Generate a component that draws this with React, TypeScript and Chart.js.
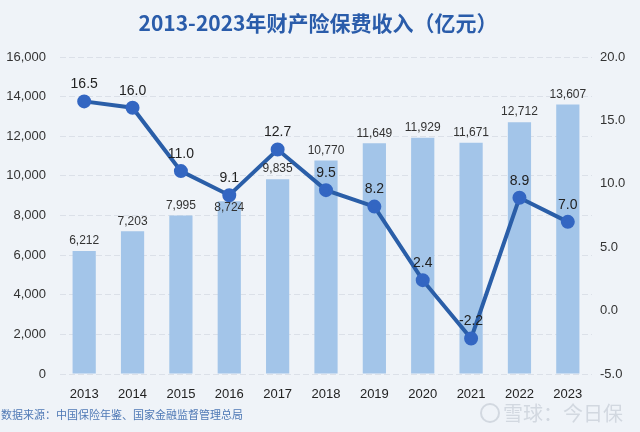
import React, { useEffect, useRef } from 'react';
import { Chart, registerables } from 'chart.js';

Chart.register(...registerables);

const years = ['2013', '2014', '2015', '2016', '2017', '2018', '2019', '2020', '2021', '2022', '2023'];
const premiums = [6212, 7203, 7995, 8724, 9835, 10770, 11649, 11929, 11671, 12712, 13607];
const growth = [16.5, 16.0, 11.0, 9.1, 12.7, 9.5, 8.2, 2.4, -2.2, 8.9, 7.0];

const titleText = '2013-2023年财产险保费收入（亿元）';
const sourceText = '数据来源：中国保险年鉴、国家金融监督管理总局';
const watermarkText = '雪球：今日保';

const FONT = '"Liberation Sans", Arial, "Noto Sans CJK SC", sans-serif';
const CJK = '"Noto Sans CJK SC", "Liberation Sans", sans-serif';

const decorPlugin = {
  id: 'decor',
  beforeDraw(chart: any) {
    const { ctx, width, height } = chart;
    ctx.save();
    ctx.fillStyle = '#eff3f8';
    ctx.fillRect(0, 0, width, height);
    ctx.restore();
  },
  afterDraw(chart: any) {
    const { ctx } = chart;
    ctx.save();
    ctx.fillStyle = '#2a5caa';
    ctx.font = `bold 21px ${CJK}`;
    ctx.textAlign = 'center';
    ctx.textBaseline = 'middle';
    ctx.fillText(titleText, 318, 23);

    ctx.fillStyle = '#4f79b5';
    ctx.font = `11px ${CJK}`;
    ctx.textAlign = 'left';
    ctx.fillText(sourceText, 1, 415);

    // watermark
    ctx.fillStyle = '#d2d8e0';
    ctx.strokeStyle = '#d2d8e0';
    ctx.lineWidth = 2;
    ctx.beginPath();
    ctx.arc(490, 413, 9, 0, Math.PI * 2);
    ctx.stroke();
    ctx.font = `20px ${CJK}`;
    ctx.fillText(watermarkText, 503, 413);
    ctx.restore();
  },
};

const labelPlugin = {
  id: 'valueLabels',
  afterDatasetsDraw(chart: any) {
    const { ctx } = chart;
    ctx.save();
    ctx.textAlign = 'center';
    ctx.textBaseline = 'middle';
    const barMeta = chart.getDatasetMeta(1);
    ctx.fillStyle = '#333333';
    ctx.font = `12px ${FONT}`;
    barMeta.data.forEach((el: any, i: number) => {
      const v = premiums[i];
      const txt = v.toLocaleString('en-US');
      const y = i === 3 ? el.y + 7 : el.y - 10;
      ctx.fillText(txt, el.x, y);
    });
    const lineMeta = chart.getDatasetMeta(0);
    ctx.font = `14px ${FONT}`;
    ctx.fillStyle = '#222222';
    lineMeta.data.forEach((el: any, i: number) => {
      ctx.fillText(growth[i].toFixed(1), el.x, el.y - 17);
    });
    ctx.restore();
  },
};

export default function App() {
  const ref = useRef<HTMLCanvasElement>(null);
  useEffect(() => {
    document.body.style.margin = '0';
    const canvas = ref.current!;
    const ctx = canvas.getContext('2d')!;
    const chart = new Chart(ctx, {
      type: 'bar',
      data: {
        labels: years,
        datasets: [
          {
            type: 'line',
            label: '增速',
            data: growth,
            yAxisID: 'y1',
            borderColor: '#2a5ea8',
            borderWidth: 4,
            pointRadius: 5,
            pointBackgroundColor: '#3366c2',
            pointBorderColor: '#3366c2',
            tension: 0,
            order: 0,
          } as any,
          {
            type: 'bar',
            label: '保费收入',
            data: premiums,
            yAxisID: 'y',
            backgroundColor: '#a3c5e9',
            barPercentage: 0.5,
            categoryPercentage: 0.96,
            order: 1,
          },
        ],
      },
      options: {
        responsive: false,
        animation: false,
        devicePixelRatio: 1,
        layout: { padding: { top: 57, bottom: 28, left: 0, right: 0 } },
        plugins: {
          legend: { display: false },
          title: { display: false },
          tooltip: { enabled: false },
        },
        scales: {
          x: {
            grid: { display: false },
            border: { display: false },
            ticks: { color: '#222', font: { size: 13, family: FONT }, padding: 5 },
            afterFit: (s: any) => { s.height = 30; },
          },
          y: {
            position: 'left',
            min: 0,
            max: 16000,
            ticks: {
              stepSize: 2000,
              color: '#333',
              font: { size: 13, family: FONT },
              padding: 14,
              callback: (v: any) => Number(v).toLocaleString('en-US'),
            },
            grid: { color: '#dbe0e8', drawTicks: false, lineWidth: 1 },
            border: { display: false, dash: [6, 3] },
            afterFit: (s: any) => { s.width = 60; },
          },
          y1: {
            position: 'right',
            min: -5,
            max: 20,
            ticks: {
              stepSize: 5,
              color: '#333',
              font: { size: 13, family: FONT },
              padding: 8,
              callback: (v: any) => Number(v).toFixed(1),
            },
            grid: { display: false, drawTicks: false },
            border: { display: false },
            afterFit: (s: any) => { s.width = 48; },
          },
        },
      },
      plugins: [decorPlugin, labelPlugin],
    });
    return () => chart.destroy();
  }, []);
  return <canvas ref={ref} width={640} height={432} style={{ display: 'block', width: 640, height: 432 }} />;
}
